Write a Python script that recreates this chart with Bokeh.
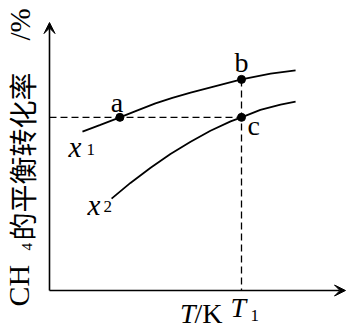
from bokeh.plotting import figure
from bokeh.models import Range1d, Arrow, VeeHead, ColumnDataSource
from bokeh.core.properties import value
from bokeh.embed import file_html
from bokeh.resources import INLINE
import math

# ---- data (schematic units) ----
T_x1 = [1.03, 1.59, 2.20, 2.75, 3.31, 3.84, 4.41, 5.19, 6.00, 6.91, 7.69]
conv_x1 = [54.8, 57.1, 59.7, 62.1, 64.5, 66.4, 68.2, 70.5, 72.8, 74.8, 75.9]
T_x2 = [1.94, 2.53, 3.16, 3.78, 4.41, 5.03, 5.66, 6.00, 6.59, 7.22, 7.69]
conv_x2 = [31.7, 37.1, 42.3, 47.1, 51.3, 55.1, 58.3, 59.7, 62.3, 64.1, 65.1]
pt_T = [2.20, 6.00, 6.00]
pt_conv = [59.7, 72.8, 59.7]
pt_labels = ["a", "b", "c"]
T1 = 6.00
level_ac = 59.7
axis_T_max = 9.25
axis_conv_max = 92.4

# ---- layout constants ----
W, H = 347, 335
PX_X0, PX_Y0 = 49, 290      # pixel position of the origin
SX, SY = 32.0, 2.9          # pixels per data unit
B = -8                      # baseline correction (pixels)
R = -14                     # baseline correction for rotated texts

SERIF = value("Liberation Serif")
CJK = value("Noto Sans CJK SC")

p = figure(width=W, height=H,
           x_range=Range1d(-PX_X0 / SX, (W - PX_X0) / SX),
           y_range=Range1d(-(H - PX_Y0) / SY, PX_Y0 / SY),
           x_axis_type=None, y_axis_type=None,
           toolbar_location=None, output_backend="svg", min_border=0)
p.outline_line_color = None
p.background_fill_color = "white"
p.border_fill_color = "white"

# axes with arrow heads
p.add_layout(Arrow(end=VeeHead(size=11, fill_color="black", line_color="black", line_width=1),
                   x_start=0, y_start=0, x_end=0, y_end=axis_conv_max,
                   line_color="black", line_width=1.6))
p.add_layout(Arrow(end=VeeHead(size=11, fill_color="black", line_color="black", line_width=1),
                   x_start=0, y_start=0, x_end=axis_T_max, y_end=0,
                   line_color="black", line_width=1.6))

# dashed guides
p.line([0, T1], [level_ac, level_ac], line_color="black", line_width=1.3, line_dash="7 4")
p.line([T1, T1], [pt_conv[1], 0], line_color="black", line_width=1.3, line_dash="7 4")

# curves
p.line(T_x1, conv_x1, line_color="black", line_width=1.8)
p.line(T_x2, conv_x2, line_color="black", line_width=1.8)

# points
p.scatter(pt_T, pt_conv, size=8, color="black")

# point labels
lab_src = ColumnDataSource(dict(x=pt_T, y=pt_conv, t=pt_labels,
                                dx=[-3, 0, 6], dy=[-7 + B, -9 + B, 16 + B],
                                al=["center", "center", "left"]))
p.text(x="x", y="y", text="t", x_offset="dx", y_offset="dy", text_align="al",
       text_baseline="alphabetic", text_font=SERIF, text_font_size="28px", text_color="black",
       source=lab_src)

# curve labels x1, x2
p.text(x=[T_x1[0], T_x2[0]], y=[conv_x1[0], conv_x2[0]], text=["x", "x"],
       x_offset=[-14, -24], y_offset=[23 + B, 14 + B], text_align="left", text_baseline="alphabetic",
       text_font=SERIF, text_font_style="italic", text_font_size="29px", text_color="black")
p.text(x=[T_x1[0], T_x2[0]], y=[conv_x1[0], conv_x2[0]], text=["1", "2"],
       x_offset=[4, -8], y_offset=[26 + B, 16 + B], text_align="left", text_baseline="alphabetic",
       text_font=SERIF, text_font_size="17px", text_color="black")

# T1 tick label
p.text(x=[T1], y=[0], text=["T"], x_offset=[-11], y_offset=[25 + B], text_align="left",
       text_baseline="alphabetic", text_font=SERIF, text_font_style="italic",
       text_font_size="28px", text_color="black")
p.text(x=[T1], y=[0], text=["1"], x_offset=[9], y_offset=[33 + B], text_align="left",
       text_baseline="alphabetic", text_font=SERIF, text_font_size="17px", text_color="black")

# x axis title T/K
p.text(x=[T1], y=[0], text=["T"], x_offset=[-46], y_offset=[31 + B], text_align="right",
       text_baseline="alphabetic", text_font=SERIF, text_font_style="italic",
       text_font_size="28px", text_color="black")
p.text(x=[T1], y=[0], text=["/K"], x_offset=[-47], y_offset=[31 + B], text_align="left",
       text_baseline="alphabetic", text_font=SERIF, text_font_size="28px", text_color="black")

# y axis title (rotated)
ang = math.pi / 2
p.text(x=[0], y=[0], text=["CH"], x_offset=[-17 + R], y_offset=[16], angle=ang,
       text_align="left", text_baseline="alphabetic", text_font=SERIF,
       text_font_size="30px", text_color="black")
p.text(x=[0], y=[0], text=["4"], x_offset=[-9 + R], y_offset=[-40], angle=ang,
       text_align="left", text_baseline="alphabetic", text_font=SERIF,
       text_font_size="15px", text_color="black")
p.text(x=[0], y=[0], text=["的平衡转化率"], x_offset=[-28], y_offset=[-50], angle=ang,
       text_align="left", text_baseline="middle", text_font=CJK,
       text_font_size="28px", text_color="black")
p.text(x=[0], y=[0], text=["/%"], x_offset=[-16 + R], y_offset=[-250], angle=ang,
       text_align="left", text_baseline="alphabetic", text_font=SERIF,
       text_font_size="29px", text_color="black")

open("out.html", "w").write(file_html(p, INLINE))
